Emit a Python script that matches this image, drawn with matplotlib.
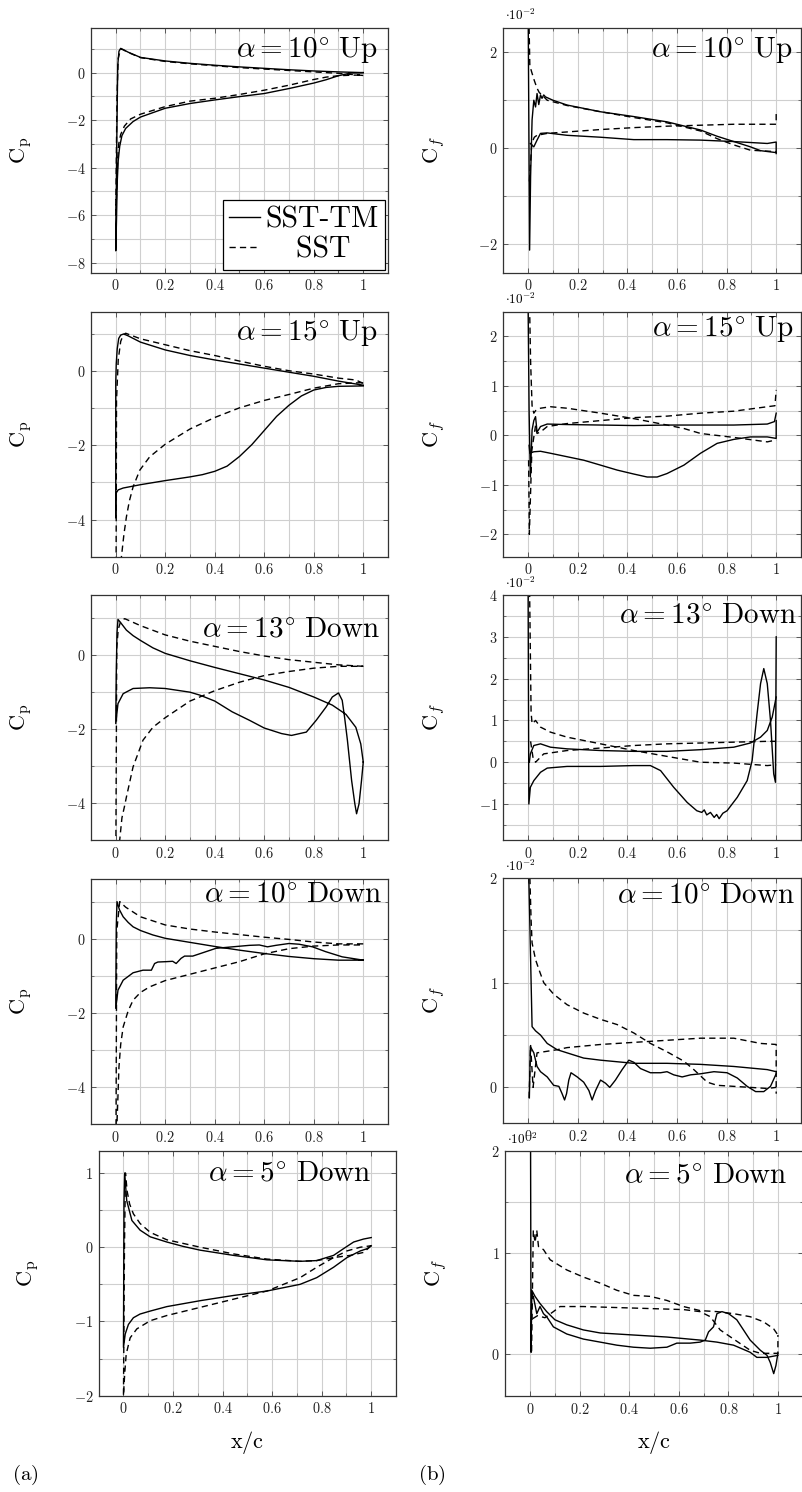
import numpy as np
import matplotlib.pyplot as plt
from matplotlib.ticker import MultipleLocator, FuncFormatter
from matplotlib.lines import Line2D

plt.rcParams['mathtext.fontset'] = 'cm'
plt.rcParams['font.family'] = ['DejaVu Serif']

# ---------------- Cp data (left column) ----------------
# ps = pressure side, ss = suction side; both listed from LE to TE
# alpha = 10 Up
cp10u_tm_ps_x = [0.0, 0.004, 0.008, 0.013, 0.02, 0.03, 0.05, 0.1, 0.2, 0.3, 0.4, 0.5, 0.6, 0.7, 0.8, 0.9, 1.0]
cp10u_tm_ps_y = [-7.5, -3.0, 0.3, 0.9, 1.02, 0.97, 0.86, 0.64, 0.49, 0.39, 0.31, 0.24, 0.18, 0.12, 0.07, 0.03, 0.0]
cp10u_tm_ss_x = [0.003, 0.006, 0.01, 0.016, 0.025, 0.04, 0.07, 0.1, 0.2, 0.3, 0.4, 0.5, 0.6, 0.7, 0.8, 0.85, 0.9, 0.95, 1.0]
cp10u_tm_ss_y = [-6.2, -4.6, -3.7, -3.1, -2.65, -2.35, -2.06, -1.87, -1.5, -1.3, -1.15, -1.01, -0.88, -0.67, -0.44, -0.3, -0.13, -0.02, 0.0]
cp10u_sst_ps_x = [0.0, 0.005, 0.01, 0.02, 0.03, 0.05, 0.1, 0.2, 0.3, 0.4, 0.5, 0.6, 0.7, 0.8, 0.9, 1.0]
cp10u_sst_ps_y = [-6.0, -1.0, 0.6, 1.0, 0.96, 0.85, 0.63, 0.47, 0.37, 0.29, 0.21, 0.15, 0.09, 0.03, -0.03, -0.12]
cp10u_sst_ss_x = [0.004, 0.008, 0.012, 0.02, 0.035, 0.06, 0.1, 0.2, 0.3, 0.4, 0.5, 0.6, 0.7, 0.8, 0.85, 0.9, 0.95, 1.0]
cp10u_sst_ss_y = [-5.0, -3.6, -3.0, -2.6, -2.25, -1.95, -1.75, -1.43, -1.2, -1.08, -0.92, -0.74, -0.53, -0.29, -0.19, -0.13, -0.11, -0.1]

# alpha = 15 Up
cp15u_tm_ps_x = [0.0, 0.002, 0.006, 0.012, 0.02, 0.032, 0.05, 0.1, 0.2, 0.3, 0.4, 0.5, 0.6, 0.7, 0.8, 0.9, 1.0]
cp15u_tm_ps_y = [-0.3, 0.2, 0.6, 0.88, 0.97, 1.0, 0.95, 0.78, 0.57, 0.42, 0.3, 0.19, 0.08, -0.03, -0.14, -0.27, -0.38]
cp15u_tm_ss_x = [0.0, 0.0, 0.01, 0.03, 0.1, 0.2, 0.3, 0.35, 0.4, 0.45, 0.5, 0.55, 0.6, 0.65, 0.7, 0.75, 0.8, 0.85, 0.9, 1.0]
cp15u_tm_ss_y = [-3.95, -3.3, -3.2, -3.15, -3.06, -2.95, -2.85, -2.79, -2.7, -2.56, -2.3, -1.98, -1.6, -1.22, -0.92, -0.67, -0.51, -0.44, -0.41, -0.4]
cp15u_sst_ps_x = [0.0, 0.003, 0.01, 0.02, 0.03, 0.04, 0.06, 0.1, 0.2, 0.3, 0.4, 0.5, 0.6, 0.7, 0.8, 0.9, 0.97, 1.0]
cp15u_sst_ps_y = [-9.0, -0.8, 0.3, 0.8, 0.97, 1.02, 0.97, 0.87, 0.71, 0.55, 0.42, 0.27, 0.13, 0.01, -0.08, -0.19, -0.24, -0.33]
cp15u_sst_ss_x = [0.0, 0.015, 0.023, 0.033, 0.043, 0.055, 0.07, 0.097, 0.137, 0.2, 0.3, 0.4, 0.5, 0.6, 0.7, 0.8, 0.9, 1.0]
cp15u_sst_ss_y = [-9.0, -6.0, -5.0, -4.4, -3.93, -3.5, -3.12, -2.67, -2.31, -1.97, -1.56, -1.25, -0.99, -0.79, -0.63, -0.46, -0.34, -0.31]

# alpha = 13 Down
cp13d_tm_ps_x = [0.0, 0.002, 0.005, 0.009, 0.02, 0.043, 0.07, 0.1, 0.15, 0.2, 0.3, 0.4, 0.5, 0.6, 0.7, 0.8, 0.875, 0.93, 0.97, 0.99, 1.0]
cp13d_tm_ps_y = [-1.85, -0.5, 0.6, 0.97, 0.88, 0.68, 0.53, 0.4, 0.2, 0.05, -0.15, -0.33, -0.5, -0.67, -0.87, -1.13, -1.35, -1.6, -1.95, -2.4, -2.89]
cp13d_tm_ss_x = [0.0, 0.009, 0.03, 0.07, 0.137, 0.2, 0.3, 0.34, 0.4, 0.47, 0.54, 0.6, 0.67, 0.71, 0.77, 0.81, 0.85, 0.875,
                 0.9, 0.915, 0.925, 0.936, 0.953, 0.966, 0.973, 0.983, 0.993, 1.0]
cp13d_tm_ss_y = [-1.85, -1.31, -1.04, -0.9, -0.88, -0.9, -1.0, -1.08, -1.24, -1.53, -1.76, -1.97, -2.12, -2.17, -2.08, -1.76, -1.4, -1.13,
                 -1.02, -1.22, -1.7, -2.3, -3.39, -4.02, -4.29, -4.02, -3.39, -2.89]
cp13d_sst_ps_x = [0.0, 0.004, 0.01, 0.02, 0.036, 0.06, 0.1, 0.2, 0.3, 0.4, 0.5, 0.6, 0.7, 0.8, 0.9, 1.0]
cp13d_sst_ps_y = [-6.0, 0.2, 0.7, 0.92, 0.99, 0.92, 0.8, 0.55, 0.38, 0.24, 0.1, -0.02, -0.12, -0.19, -0.26, -0.3]
cp13d_sst_ss_x = [0.008, 0.016, 0.025, 0.035, 0.043, 0.07, 0.11, 0.15, 0.2, 0.3, 0.4, 0.5, 0.6, 0.7, 0.8, 0.9, 1.0]
cp13d_sst_ss_y = [-8.0, -5.0, -4.4, -4.1, -3.84, -3.02, -2.3, -1.95, -1.69, -1.24, -0.96, -0.73, -0.55, -0.44, -0.35, -0.3, -0.3]

# alpha = 10 Down
cp10d_tm_ps_x = [0.0, 0.002, 0.005, 0.015, 0.03, 0.05, 0.07, 0.1, 0.15, 0.2, 0.3, 0.4, 0.5, 0.6, 0.7, 0.8, 0.9, 1.0]
cp10d_tm_ps_y = [-1.88, 0.3, 1.0, 0.78, 0.59, 0.44, 0.32, 0.22, 0.1, 0.01, -0.1, -0.21, -0.31, -0.4, -0.48, -0.54, -0.58, -0.58]
cp10d_tm_ss_x = [0.0, 0.009, 0.03, 0.07, 0.11, 0.144, 0.157, 0.17, 0.204, 0.23, 0.244, 0.264, 0.278, 0.311, 0.338, 0.405,
                 0.472, 0.54, 0.58, 0.613, 0.647, 0.7, 0.741, 0.795, 0.848, 0.915, 1.0]
cp10d_tm_ss_y = [-1.88, -1.39, -1.12, -0.92, -0.85, -0.85, -0.67, -0.63, -0.62, -0.61, -0.67, -0.53, -0.47, -0.47, -0.41, -0.26,
                 -0.22, -0.18, -0.17, -0.22, -0.18, -0.13, -0.15, -0.22, -0.35, -0.49, -0.58]
cp10d_sst_ps_x = [0.0, 0.004, 0.016, 0.04, 0.07, 0.1, 0.2, 0.3, 0.4, 0.5, 0.6, 0.7, 0.8, 0.9, 1.0]
cp10d_sst_ps_y = [-7.0, 0.2, 1.0, 0.85, 0.72, 0.59, 0.37, 0.26, 0.18, 0.11, 0.04, -0.02, -0.09, -0.14, -0.14]
cp10d_sst_ss_x = [0.002, 0.005, 0.013, 0.02, 0.03, 0.05, 0.07, 0.1, 0.137, 0.2, 0.3, 0.4, 0.5, 0.6, 0.7, 0.8, 0.9, 1.0]
cp10d_sst_ss_y = [-7.0, -5.0, -3.46, -2.85, -2.38, -1.95, -1.66, -1.45, -1.3, -1.13, -0.96, -0.79, -0.62, -0.41, -0.27, -0.2, -0.17, -0.17]

# alpha = 5 Down
cp5d_tm_ps_x = [0.002, 0.005, 0.013, 0.034, 0.067, 0.108, 0.175, 0.242, 0.31, 0.444, 0.579, 0.646, 0.713, 0.78, 0.848, 0.888, 0.929, 0.969, 1.0]
cp5d_tm_ps_y = [0.6, 1.0, 0.63, 0.36, 0.23, 0.14, 0.07, 0.01, -0.04, -0.11, -0.17, -0.18, -0.19, -0.18, -0.11, -0.02, 0.07, 0.11, 0.13]
cp5d_tm_ss_x = [0.0, 0.007, 0.02, 0.04, 0.067, 0.108, 0.175, 0.31, 0.444, 0.579, 0.713, 0.78, 0.848, 0.902, 0.956, 0.983, 1.0]
cp5d_tm_ss_y = [-1.35, -1.17, -1.04, -0.95, -0.9, -0.86, -0.8, -0.72, -0.65, -0.59, -0.5, -0.41, -0.27, -0.14, -0.05, -0.02, 0.02]
cp5d_sst_ps_x = [0.004, 0.008, 0.015, 0.025, 0.04, 0.067, 0.108, 0.175, 0.31, 0.444, 0.579, 0.713, 0.78, 0.848, 0.915, 0.969, 1.0]
cp5d_sst_ps_y = [0.0, 1.0, 0.75, 0.58, 0.45, 0.32, 0.2, 0.1, 0.0, -0.09, -0.16, -0.19, -0.18, -0.14, -0.11, -0.07, 0.02]
cp5d_sst_ss_x = [0.0, 0.005, 0.011, 0.027, 0.054, 0.108, 0.175, 0.31, 0.444, 0.579, 0.646, 0.713, 0.78, 0.848, 0.902, 0.956, 1.0]
cp5d_sst_ss_y = [-2.0, -1.7, -1.44, -1.22, -1.1, -0.99, -0.92, -0.81, -0.7, -0.59, -0.5, -0.41, -0.27, -0.14, -0.05, 0.0, 0.02]

# ---------------- Cf data (right column), values in units of 1e-2 ----------------
# alpha = 10 Up
cf10u_tm_a_x = [0.0, 0.003, 0.006, 0.01, 0.016, 0.023, 0.03, 0.036, 0.043, 0.05, 0.056, 0.063, 0.07, 0.1, 0.157, 0.292,
                0.426, 0.56, 0.695, 0.762, 0.829, 0.896, 0.937, 1.0]
cf10u_tm_a_y = [3.0, 0.5, -2.13, -0.6, 0.58, 0.99, 0.85, 1.13, 0.9, 1.1, 1.03, 1.1, 1.06, 0.99, 0.89, 0.75,
                0.65, 0.54, 0.37, 0.24, 0.13, 0.02, -0.06, -0.1]
cf10u_tm_b_x = [0.009, 0.016, 0.023, 0.036, 0.05, 0.077, 0.157, 0.292, 0.426, 0.56, 0.695, 0.829, 0.964, 1.0, 1.0]
cf10u_tm_b_y = [0.09, 0.05, 0.02, 0.16, 0.3, 0.31, 0.26, 0.22, 0.17, 0.17, 0.16, 0.13, 0.09, 0.12, -0.12]
cf10u_sst_a_x = [0.004, 0.007, 0.012, 0.016, 0.025, 0.036, 0.045, 0.056, 0.077, 0.157, 0.292, 0.426, 0.56, 0.695, 0.762, 0.829, 0.896, 1.0]
cf10u_sst_a_y = [2.5, 1.69, 1.62, 1.55, 1.4, 1.24, 1.15, 1.1, 0.99, 0.88, 0.75, 0.63, 0.52, 0.35, 0.19, 0.06, -0.05, -0.08]
cf10u_sst_b_x = [0.005, 0.015, 0.025, 0.036, 0.077, 0.157, 0.292, 0.426, 0.56, 0.695, 0.829, 1.0, 1.0]
cf10u_sst_b_y = [-0.7, 0.1, 0.22, 0.26, 0.3, 0.33, 0.38, 0.42, 0.45, 0.47, 0.49, 0.49, 0.72]

# alpha = 15 Up
cf15u_tm_a_x = [0.0, 0.004, 0.009, 0.016, 0.023, 0.03, 0.036, 0.043, 0.05, 0.077, 0.157, 0.292, 0.426, 0.56, 0.695, 0.829, 0.964, 0.993, 1.0]
cf15u_tm_a_y = [2.6, 0.5, -0.84, 0.11, 0.3, 0.38, 0.07, 0.12, 0.18, 0.23, 0.22, 0.21, 0.2, 0.21, 0.21, 0.21, 0.23, 0.28, 0.45]
cf15u_tm_b_x = [0.004, 0.007, 0.023, 0.05, 0.09, 0.157, 0.224, 0.292, 0.359, 0.426, 0.48, 0.52, 0.56, 0.628, 0.695, 0.762,
                0.829, 0.896, 0.964, 1.0, 1.0]
cf15u_tm_b_y = [-0.2, -0.36, -0.33, -0.32, -0.36, -0.43, -0.5, -0.6, -0.7, -0.78, -0.84, -0.84, -0.77, -0.6, -0.36, -0.16,
                -0.08, -0.03, -0.03, -0.06, 0.3]
cf15u_sst_a_x = [0.006, 0.01, 0.016, 0.023, 0.03, 0.05, 0.09, 0.157, 0.292, 0.426, 0.56, 0.628, 0.695, 0.829, 0.964, 1.0]
cf15u_sst_a_y = [2.6, 1.5, 0.6, 0.45, 0.5, 0.55, 0.58, 0.55, 0.45, 0.34, 0.21, 0.14, 0.04, -0.04, -0.13, -0.09]
cf15u_sst_b_x = [0.002, 0.005, 0.015, 0.03, 0.036, 0.05, 0.077, 0.157, 0.292, 0.426, 0.56, 0.695, 0.829, 0.964, 0.995, 1.0]
cf15u_sst_b_y = [-0.5, -2.0, -0.3, 0.2, 0.04, 0.07, 0.18, 0.24, 0.3, 0.36, 0.39, 0.45, 0.49, 0.58, 0.6, 0.92]

# alpha = 13 Down
cf13d_tm_a_x = [0.0, 0.003, 0.009, 0.023, 0.05, 0.077, 0.157, 0.292, 0.426, 0.493, 0.534, 0.587, 0.641, 0.68, 0.7, 0.71,
                0.72, 0.735, 0.75, 0.76, 0.77, 0.785, 0.802, 0.843, 0.883, 0.903, 0.923, 0.937, 0.95, 0.964, 0.977, 0.99, 0.997, 1.0]
cf13d_tm_a_y = [4.1, -1.0, -0.6, -0.44, -0.24, -0.14, -0.1, -0.1, -0.08, -0.08, -0.2, -0.6, -0.96, -1.16, -1.2, -1.14,
                -1.26, -1.2, -1.32, -1.25, -1.35, -1.22, -1.16, -0.84, -0.44, 0.04, 1.16, 1.88, 2.24, 1.88, 1.0, -0.28, -0.48, 3.0]
cf13d_tm_b_x = [0.005, 0.009, 0.023, 0.05, 0.09, 0.157, 0.292, 0.426, 0.56, 0.695, 0.829, 0.896, 0.937, 0.964, 0.984, 1.0]
cf13d_tm_b_y = [0.0, 0.2, 0.4, 0.44, 0.36, 0.32, 0.28, 0.26, 0.26, 0.3, 0.36, 0.46, 0.6, 0.76, 1.08, 1.56]
cf13d_sst_a_x = [0.006, 0.012, 0.016, 0.03, 0.05, 0.09, 0.157, 0.292, 0.426, 0.56, 0.695, 0.829, 0.964, 1.0]
cf13d_sst_a_y = [4.1, 1.2, 0.92, 1.0, 0.84, 0.72, 0.6, 0.44, 0.28, 0.14, 0.0, -0.02, -0.08, -0.06]
cf13d_sst_b_x = [0.01, 0.02, 0.03, 0.063, 0.157, 0.292, 0.426, 0.56, 0.695, 0.829, 0.964, 1.0]
cf13d_sst_b_y = [0.5, 0.1, 0.0, 0.2, 0.28, 0.34, 0.4, 0.44, 0.46, 0.48, 0.5, 0.5]

# alpha = 10 Down
cf10d_tm_a_x = [0.002, 0.016, 0.03, 0.05, 0.077, 0.117, 0.157, 0.224, 0.292, 0.426, 0.56, 0.695, 0.829, 0.964, 1.0]
cf10d_tm_a_y = [2.1, 0.58, 0.54, 0.5, 0.42, 0.36, 0.33, 0.28, 0.26, 0.23, 0.23, 0.22, 0.2, 0.17, 0.15]
cf10d_tm_b_x = [0.005, 0.009, 0.023, 0.036, 0.05, 0.077, 0.103, 0.124, 0.137, 0.147, 0.155, 0.164, 0.173, 0.198, 0.224,
                0.245, 0.258, 0.272, 0.292, 0.312, 0.329, 0.352, 0.379, 0.406, 0.426, 0.453, 0.493, 0.534, 0.56, 0.587,
                0.621, 0.655, 0.695, 0.749, 0.802, 0.843, 0.883, 0.917, 0.95, 0.977, 1.0]
cf10d_tm_b_y = [-0.1, 0.39, 0.33, 0.2, 0.15, 0.1, 0.02, 0.01, -0.06, -0.12, -0.06, 0.07, 0.14, 0.1, 0.05,
                -0.03, -0.12, -0.03, 0.07, 0.04, 0.0, 0.07, 0.17, 0.26, 0.24, 0.18, 0.14, 0.14, 0.15, 0.12,
                0.1, 0.12, 0.13, 0.15, 0.14, 0.09, 0.01, -0.04, -0.04, 0.01, 0.13]
cf10d_sst_a_x = [0.006, 0.012, 0.016, 0.03, 0.043, 0.063, 0.103, 0.157, 0.224, 0.292, 0.359, 0.426, 0.493, 0.56, 0.628,
                 0.668, 0.722, 0.762, 0.829, 0.964, 1.0]
cf10d_sst_a_y = [2.1, 1.6, 1.38, 1.22, 1.13, 1.0, 0.89, 0.79, 0.71, 0.65, 0.6, 0.52, 0.42, 0.34, 0.25,
                 0.17, 0.05, 0.02, 0.01, -0.01, 0.0]
cf10d_sst_b_x = [0.004, 0.01, 0.02, 0.036, 0.063, 0.117, 0.157, 0.292, 0.426, 0.56, 0.695, 0.829, 0.937, 1.0, 1.0]
cf10d_sst_b_y = [-0.1, 0.4, 0.0, 0.33, 0.34, 0.36, 0.38, 0.41, 0.43, 0.45, 0.47, 0.47, 0.42, 0.41, -0.06]

# alpha = 5 Down
cf5d_tm_a_x = [0.002, 0.004, 0.007, 0.02, 0.04, 0.067, 0.1, 0.148, 0.215, 0.283, 0.417, 0.552, 0.686, 0.754, 0.821, 0.888, 0.915, 0.956, 1.0]
cf5d_tm_a_y = [2.0, 0.02, 0.63, 0.57, 0.5, 0.42, 0.34, 0.29, 0.24, 0.21, 0.19, 0.17, 0.14, 0.12, 0.09, 0.02, -0.03, -0.03, -0.01]
cf5d_tm_b_x = [0.013, 0.027, 0.04, 0.054, 0.067, 0.094, 0.148, 0.215, 0.283, 0.35, 0.417, 0.485, 0.552, 0.592, 0.646, 0.686,
               0.707, 0.72, 0.74, 0.754, 0.774, 0.801, 0.834, 0.861, 0.888, 0.929, 0.956, 0.969, 0.983, 0.992, 1.0]
cf5d_tm_b_y = [0.57, 0.4, 0.47, 0.4, 0.37, 0.27, 0.2, 0.15, 0.12, 0.09, 0.07, 0.06, 0.07, 0.11, 0.11, 0.12,
               0.14, 0.22, 0.27, 0.4, 0.42, 0.4, 0.34, 0.24, 0.14, 0.04, -0.01, -0.08, -0.19, -0.11, 0.01]
cf5d_sst_a_x = [0.006, 0.013, 0.02, 0.027, 0.034, 0.054, 0.081, 0.148, 0.215, 0.283, 0.35, 0.417, 0.485, 0.552, 0.619,
                0.686, 0.754, 0.821, 0.888, 0.942, 0.983, 1.0]
cf5d_sst_a_y = [0.03, 1.22, 1.1, 1.22, 1.06, 1.03, 0.93, 0.83, 0.76, 0.7, 0.63, 0.58, 0.57, 0.53, 0.47,
                0.43, 0.42, 0.4, 0.37, 0.32, 0.25, 0.19]
cf5d_sst_b_x = [0.01, 0.03, 0.06, 0.094, 0.121, 0.215, 0.35, 0.485, 0.619, 0.686, 0.727, 0.767, 0.821, 0.888, 0.929, 1.0, 1.0]
cf5d_sst_b_y = [0.35, 0.38, 0.36, 0.42, 0.47, 0.47, 0.46, 0.45, 0.44, 0.42, 0.37, 0.24, 0.15, 0.04, 0.01, 0.01, 0.19]

titles = [r'$\alpha = 10^{\circ}\ \mathrm{Up}$', r'$\alpha = 15^{\circ}\ \mathrm{Up}$',
          r'$\alpha = 13^{\circ}\ \mathrm{Down}$', r'$\alpha = 10^{\circ}\ \mathrm{Down}$',
          r'$\alpha = 5^{\circ}\ \mathrm{Down}$']

cp_ylims = [(-8.42, 1.89), (-5.0, 1.6), (-5.0, 1.63), (-5.0, 1.61), (-2.0, 1.3)]
cp_major = [2, 2, 2, 2, 1]
cp_minor = [1, 1, 1, 1, 0.5]
cf_ylims = [(-2.6, 2.5), (-2.45, 2.5), (-1.86, 4.0), (-0.34, 2.0), (-0.41, 2.0)]
cf_major = [2, 1, 1, 1, 1]
cf_minor = [1, 0.5, 0.5, 0.5, 0.5]

cp_curves = [
    (cp10u_tm_ps_x, cp10u_tm_ps_y, cp10u_tm_ss_x, cp10u_tm_ss_y, cp10u_sst_ps_x, cp10u_sst_ps_y, cp10u_sst_ss_x, cp10u_sst_ss_y),
    (cp15u_tm_ps_x, cp15u_tm_ps_y, cp15u_tm_ss_x, cp15u_tm_ss_y, cp15u_sst_ps_x, cp15u_sst_ps_y, cp15u_sst_ss_x, cp15u_sst_ss_y),
    (cp13d_tm_ps_x, cp13d_tm_ps_y, cp13d_tm_ss_x, cp13d_tm_ss_y, cp13d_sst_ps_x, cp13d_sst_ps_y, cp13d_sst_ss_x, cp13d_sst_ss_y),
    (cp10d_tm_ps_x, cp10d_tm_ps_y, cp10d_tm_ss_x, cp10d_tm_ss_y, cp10d_sst_ps_x, cp10d_sst_ps_y, cp10d_sst_ss_x, cp10d_sst_ss_y),
    (cp5d_tm_ps_x, cp5d_tm_ps_y, cp5d_tm_ss_x, cp5d_tm_ss_y, cp5d_sst_ps_x, cp5d_sst_ps_y, cp5d_sst_ss_x, cp5d_sst_ss_y),
]
cf_curves = [
    (cf10u_tm_a_x, cf10u_tm_a_y, cf10u_tm_b_x, cf10u_tm_b_y, cf10u_sst_a_x, cf10u_sst_a_y, cf10u_sst_b_x, cf10u_sst_b_y),
    (cf15u_tm_a_x, cf15u_tm_a_y, cf15u_tm_b_x, cf15u_tm_b_y, cf15u_sst_a_x, cf15u_sst_a_y, cf15u_sst_b_x, cf15u_sst_b_y),
    (cf13d_tm_a_x, cf13d_tm_a_y, cf13d_tm_b_x, cf13d_tm_b_y, cf13d_sst_a_x, cf13d_sst_a_y, cf13d_sst_b_x, cf13d_sst_b_y),
    (cf10d_tm_a_x, cf10d_tm_a_y, cf10d_tm_b_x, cf10d_tm_b_y, cf10d_sst_a_x, cf10d_sst_a_y, cf10d_sst_b_x, cf10d_sst_b_y),
    (cf5d_tm_a_x, cf5d_tm_a_y, cf5d_tm_b_x, cf5d_tm_b_y, cf5d_sst_a_x, cf5d_sst_a_y, cf5d_sst_b_x, cf5d_sst_b_y),
]

# layout in pixels (left, top, width) and title placement (pad from right, offset from top)
W, H = 803, 1492
AX_H = 245
left_boxes = [(91, 27.7, 297), (91, 311.7, 297), (91, 595, 297), (91, 879, 297), (98.7, 1150.7, 297.3)]
right_boxes = [(503.3, 27.7, 297.7), (503.3, 311.7, 297.7), (503.3, 595, 297.7), (503.3, 878, 297.7), (505.3, 1151, 297.4)]
left_title_pos = [(10, 23), (10, 22), (8, 35), (6, 16), (24, 23)]
right_title_pos = [(8, 23), (7, 18), (4, 20), (6, 17), (15, 24)]

SOLID = dict(color='black', lw=1.0)
DASHED = dict(color='black', lw=1.0, dashes=(4.5, 3))

fig = plt.figure(figsize=(W / 100, H / 100), dpi=100)


def tick_fmt(v, pos):
    s = f'{v:g}'
    if s == '-0':
        s = '0'
    return f'${s}$'


def make_axes(box, ylim, major, minor, title, tpos):
    l, t, w = box
    ax = fig.add_axes([l / W, 1 - (t + AX_H) / H, w / W, AX_H / H])
    ax.set_xlim(-0.1, 1.1)
    ax.set_ylim(*ylim)
    ax.xaxis.set_major_locator(MultipleLocator(0.2))
    ax.xaxis.set_minor_locator(MultipleLocator(0.1))
    ax.yaxis.set_major_locator(MultipleLocator(major))
    ax.yaxis.set_minor_locator(MultipleLocator(minor))
    ax.xaxis.set_major_formatter(FuncFormatter(tick_fmt))
    ax.yaxis.set_major_formatter(FuncFormatter(tick_fmt))
    ax.grid(which='both', color='#cfcfcf', lw=0.8)
    ax.set_axisbelow(True)
    ax.tick_params(which='both', direction='in', top=True, right=True, color='#444444', labelcolor='#222222')
    ax.tick_params(which='major', length=3.5, width=0.6, labelsize=10.3, pad=4)
    ax.tick_params(which='minor', length=2, width=0.5)
    for sp in ax.spines.values():
        sp.set_color('#333333')
        sp.set_linewidth(0.9)
    ax.text(1 - tpos[0] / w, 1 - tpos[1] / AX_H, title, transform=ax.transAxes,
            ha='right', va='center', fontsize=21, zorder=5)
    return ax


for i in range(5):
    # left column: pressure coefficient
    ax = make_axes(left_boxes[i], cp_ylims[i], cp_major[i], cp_minor[i], titles[i], left_title_pos[i])
    tpx, tpy, tsx, tsy, spx, spy, ssx, ssy = cp_curves[i]
    ax.plot(np.concatenate([tpx[::-1], tsx]), np.concatenate([tpy[::-1], tsy]), **SOLID)
    ax.plot(np.concatenate([spx[::-1], ssx]), np.concatenate([spy[::-1], ssy]), **DASHED)
    ax.set_ylabel(r'$\mathrm{C_p}$', fontsize=16)
    ax.yaxis.set_label_coords(-0.19, 0.5)
    if i == 0:
        handles = [Line2D([], [], **SOLID), Line2D([], [], **DASHED)]
        ax.legend(handles, ['SST-TM', '   SST'], loc='lower right', prop={'family': 'cmr10', 'size': 21.5},
                  fancybox=False, edgecolor='black', framealpha=1, borderpad=0.2, handlelength=1.05,
                  handletextpad=0.18, labelspacing=0.1, borderaxespad=0.1).get_frame().set_linewidth(0.9)
    if i == 4:
        ax.set_xlabel(r'$\mathrm{x/c}$', fontsize=16)
        ax.xaxis.set_label_coords(0.5, -0.135)

    # right column: skin friction coefficient
    ax = make_axes(right_boxes[i], cf_ylims[i], cf_major[i], cf_minor[i], titles[i], right_title_pos[i])
    tax, tay, tbx, tby, sax, say, sbx, sby = cf_curves[i]
    ax.plot(tax, tay, **SOLID)
    ax.plot(tbx, tby, **SOLID)
    ax.plot(sax, say, **DASHED)
    ax.plot(sbx, sby, **DASHED)
    ax.set_ylabel(r'$\mathrm{C}_f$', fontsize=16)
    ax.yaxis.set_label_coords(-0.19, 0.5)
    ax.text(0.005, 1 + 12 / AX_H, r'$\cdot 10^{-2}$', transform=ax.transAxes, ha='left', va='center', fontsize=9.5)
    if i == 4:
        ax.set_xlabel(r'$\mathrm{x/c}$', fontsize=16)
        ax.xaxis.set_label_coords(0.5, -0.135)

fig.text(12 / W, 1 - 1475 / H, r'$(\mathrm{a})$', fontsize=15, va='center', ha='left')
fig.text(418 / W, 1 - 1475 / H, r'$(\mathrm{b})$', fontsize=15, va='center', ha='left')

fig.savefig('out.png', dpi=100)
